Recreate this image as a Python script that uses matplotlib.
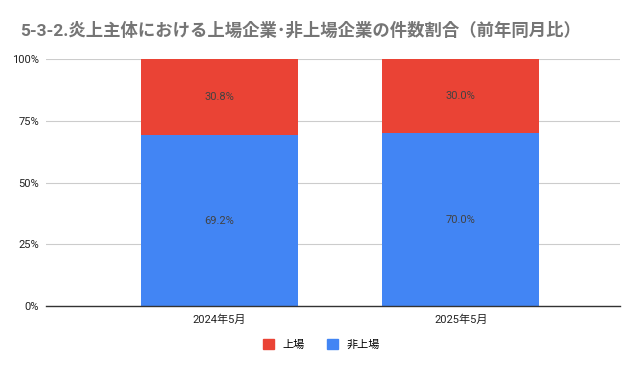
import matplotlib
matplotlib.use("Agg")
import matplotlib.pyplot as plt
import numpy as np

plt.rcParams['font.family'] = ['Roboto', 'Noto Sans CJK JP', 'DejaVu Sans']

# data
categories = ['2024年5月', '2025年5月']
listed = [30.8, 30.0]
unlisted = [69.2, 70.0]
series_names = ['上場', '非上場']
title = '5-3-2.炎上主体における上場企業･非上場企業の件数割合（前年同月比）'

c_listed = '#EA4335'
c_unlisted = '#4285F4'

fig = plt.figure(figsize=(6.43, 3.71), dpi=100)
ax = fig.add_axes([0.0715, 0.175, 0.8925, 0.666])

x = np.arange(len(categories))
w = 0.65
ax.bar(x, unlisted, w, color=c_unlisted, zorder=3)
ax.bar(x, listed, w, bottom=unlisted, color=c_listed, zorder=3)

for i in range(len(categories)):
    ax.text(x[i], unlisted[i] / 2, f'{unlisted[i]:.1f}%', ha='center', va='center',
            fontsize=8, color='#424242', zorder=4)
    ax.text(x[i], unlisted[i] + listed[i] / 2, f'{listed[i]:.1f}%', ha='center', va='center',
            fontsize=8, color='#424242', zorder=4)

ax.set_xlim(-0.72, 1.66)
ax.set_ylim(0, 100)
ax.set_yticks([0, 25, 50, 75, 100])
ax.set_yticklabels(['0%', '25%', '50%', '75%', '100%'])
ax.set_xticks(x)
ax.set_xticklabels(categories)
ax.tick_params(axis='both', length=0, labelsize=8, colors='#222222')
ax.tick_params(axis='y', pad=5)
ax.tick_params(axis='x', pad=6)
ax.grid(axis='y', color='#CCCCCC', linewidth=0.8, zorder=0)
for s in ['top', 'right', 'left']:
    ax.spines[s].set_visible(False)
ax.spines['bottom'].set_color('#333333')
ax.spines['bottom'].set_linewidth(1)
ax.spines['bottom'].set_zorder(5)

fig.text(0.031, 0.918, title, fontsize=12.5, color='#757575', fontweight='bold',
         ha='left', va='center')

handles = [plt.Rectangle((0, 0), 1, 1, color=c_listed), plt.Rectangle((0, 0), 1, 1, color=c_unlisted)]
fig.legend(handles, series_names, loc='center', bbox_to_anchor=(0.5, 0.072), ncol=2,
           frameon=False, fontsize=8, handlelength=1.0, handleheight=1.0,
           handletextpad=0.8, columnspacing=2.0)

fig.savefig('out.png', dpi=100)
